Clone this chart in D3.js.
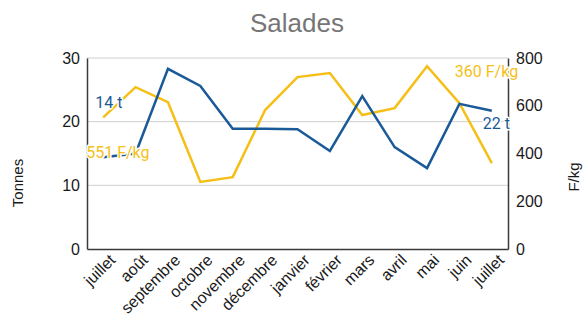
<!DOCTYPE html>
<html>
<head>
<meta charset="utf-8">
<script src="https://cdn.jsdelivr.net/npm/d3@7"></script>
<style>
  body { margin: 0; background: #fff; }
  svg { font-family: "Liberation Sans", Arial, sans-serif; }
</style>
</head>
<body>
<script>
var w = 584;
var h = 318;

var months = ["juillet", "août", "septembre", "octobre", "novembre", "décembre",
  "janvier", "février", "mars", "avril", "mai", "juin", "juillet"];
var tonnes = [14.4, 15.0, 28.3, 25.6, 18.9, 18.9, 18.8, 15.4, 24.0, 16.0, 12.7, 22.8, 21.7];
var prix = [551, 678, 615, 281, 301, 582, 720, 737, 561, 590, 766, 611, 360];
var leftTicks = [0, 10, 20, 30];
var rightTicks = [0, 200, 400, 600, 800];

var blue = "#1b5a98";
var yellow = "#f5bf17";

var margin = {top: 58, right: 76, bottom: 69, left: 87};
var iw = w - margin.left - margin.right;
var ih = h - margin.top - margin.bottom;

var svg = d3.select("body").append("svg")
  .attr("width", w)
  .attr("height", h);

svg.append("text")
  .attr("x", 297).attr("y", 32)
  .attr("text-anchor", "middle")
  .attr("font-size", 26)
  .attr("fill", "#767676")
  .text("Salades");

var g = svg.append("g")
  .attr("transform", "translate(" + margin.left + "," + margin.top + ")");

var x = d3.scaleBand()
  .domain(d3.range(months.length))
  .range([0, iw]);
var xc = function (i) { return x(i) + x.bandwidth() / 2; };

var yL = d3.scaleLinear().domain([0, 30]).range([ih, 0]);
var yR = d3.scaleLinear().domain([0, 800]).range([ih, 0]);

// grid
g.selectAll(".grid")
  .data(leftTicks.filter(function (d) { return d > 0; }))
  .enter().append("line")
  .attr("x1", 0).attr("x2", iw)
  .attr("y1", function (d) { return yL(d); })
  .attr("y2", function (d) { return yL(d); })
  .attr("stroke", "#cfcfcf").attr("stroke-width", 1);

// axes
var axL = g.append("g")
  .call(d3.axisLeft(yL).tickValues(leftTicks).tickSize(0).tickPadding(7));
var axR = g.append("g")
  .attr("transform", "translate(" + iw + ",0)")
  .call(d3.axisRight(yR).tickValues(rightTicks).tickSize(0).tickPadding(8));
var axB = g.append("g")
  .attr("transform", "translate(0," + ih + ")")
  .call(d3.axisBottom(x).tickSize(0).tickPadding(8).tickFormat(function (i) { return months[i]; }));

[axL, axR, axB].forEach(function (a) {
  a.select(".domain").attr("stroke", "#3a3a3a").attr("stroke-width", 1.5);
  a.selectAll("text").attr("fill", "#1a1a1a").attr("font-family", "Liberation Sans, Arial, sans-serif");
});
axL.selectAll("text").attr("font-size", 16);
axR.selectAll("text").attr("font-size", 16);
axB.selectAll("text")
  .attr("font-size", 16)
  .attr("text-anchor", "end")
  .attr("dx", "0.05em")
  .attr("dy", "0.62em")
  .attr("transform", "rotate(-45)");

// axis titles
svg.append("text")
  .attr("transform", "translate(23,183) rotate(-90)")
  .attr("text-anchor", "middle")
  .attr("font-size", 15)
  .attr("fill", "#1a1a1a")
  .text("Tonnes");
svg.append("text")
  .attr("transform", "translate(579,177) rotate(-90)")
  .attr("text-anchor", "middle")
  .attr("font-size", 15)
  .attr("fill", "#1a1a1a")
  .text("F/kg");

// lines
var lineL = d3.line()
  .x(function (d, i) { return xc(i); })
  .y(function (d) { return yL(d); });
var lineR = d3.line()
  .x(function (d, i) { return xc(i); })
  .y(function (d) { return yR(d); });

g.append("path").datum(prix)
  .attr("d", lineR)
  .attr("fill", "none").attr("stroke", yellow).attr("stroke-width", 2.5);
g.append("path").datum(tonnes)
  .attr("d", lineL)
  .attr("fill", "none").attr("stroke", blue).attr("stroke-width", 2.5);

// end labels
var last = months.length - 1;
var labels = [
  {text: "14 t", x: xc(0) - 8, y: yL(tonnes[0]) - 49, color: blue},
  {text: prix[0] + " F/kg", x: xc(0) - 17, y: yR(prix[0]) + 41, color: yellow},
  {text: prix[last] + " F/kg", x: xc(last) - 37, y: yR(prix[last]) - 86, color: yellow},
  {text: "22 t", x: xc(last) - 9, y: yL(tonnes[last]) + 18, color: blue}
];

g.selectAll(".lbl")
  .data(labels)
  .enter().append("text")
  .attr("x", function (d) { return d.x; })
  .attr("y", function (d) { return d.y; })
  .attr("font-family", "Roboto, sans-serif")
  .attr("font-size", 16)
  .attr("fill", function (d) { return d.color; })
  .attr("stroke", "#fff").attr("stroke-width", 3).attr("stroke-linejoin", "round")
  .attr("paint-order", "stroke")
  .text(function (d) { return d.text; });
</script>
</body>
</html>
